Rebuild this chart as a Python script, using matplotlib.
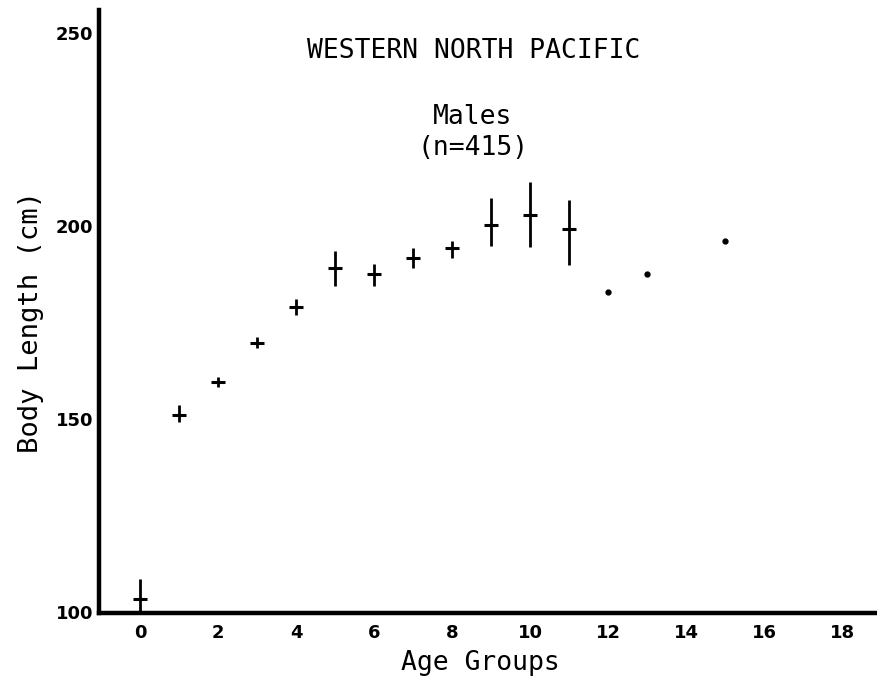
import matplotlib
matplotlib.use("Agg")
from matplotlib import pyplot as plt

# age groups with crosses (mean +/- range bars)
ages = [0, 1, 2, 3, 4, 5, 6, 7, 8, 9, 10, 11]
mean_len = [103.4, 151.0, 159.6, 169.7, 179.0, 189.1, 187.6, 191.7, 194.3, 200.3, 202.8, 199.2]
upper = [108.5, 153.6, 160.9, 171.2, 181.1, 193.5, 190.2, 194.3, 196.1, 207.3, 211.4, 206.7]
lower = [100.0, 149.2, 158.3, 168.4, 177.0, 184.5, 184.5, 189.1, 191.7, 194.8, 194.6, 189.9]

# single specimens shown as dots
dot_ages = [12, 13, 15]
dot_len = [182.9, 187.6, 196.1]

x_ticks = [0, 2, 4, 6, 8, 10, 12, 14, 16, 18]
y_ticks = [100, 150, 200, 250]

W, H = 878, 684
fig = plt.figure(figsize=(W / 100, H / 100), dpi=100)
ax = fig.add_axes([0.1128, 0.1038, 0.8872, 0.8816])

yerr = [[m - lo for m, lo in zip(mean_len, lower)],
        [hi - m for m, hi in zip(mean_len, upper)]]
ax.errorbar(ages, mean_len, yerr=yerr, fmt="_", color="black",
            markersize=10, markeredgewidth=2.2, elinewidth=2.0, capsize=0)
ax.plot(dot_ages, dot_len, "o", color="black", markersize=3.5)

ax.set_xlim(-1.05, 18.92)
ax.set_ylim(99.7, 256)
ax.set_xticks(x_ticks)
ax.set_yticks(y_ticks)
for lab in ax.get_xticklabels() + ax.get_yticklabels():
    lab.set_fontweight("bold")
    lab.set_fontsize(13)
ax.tick_params(axis="both", length=0)
ax.tick_params(axis="x", pad=8)
ax.tick_params(axis="y", pad=4)

for side in ["top", "right"]:
    ax.spines[side].set_visible(False)
for side in ["left", "bottom"]:
    ax.spines[side].set_linewidth(3.2)

mono = "DejaVu Sans Mono"
fig.text(480 / W, 1 - 663 / H, "Age Groups", ha="center", va="center",
         family=mono, fontsize=19)
fig.text(31 / W, 1 - 322 / H, "Body Length (cm)", ha="center", va="center",
         rotation=90, family=mono, fontsize=19.5)

ax.text(0.481, 0.932, "WESTERN NORTH PACIFIC", transform=ax.transAxes,
        ha="center", va="center", family=mono, fontsize=19)
ax.text(0.480, 0.797, "Males\n(n=415)", transform=ax.transAxes,
        ha="center", va="center", family=mono, fontsize=19,
        linespacing=1.25)

plt.savefig("out.png")
plt.close()
